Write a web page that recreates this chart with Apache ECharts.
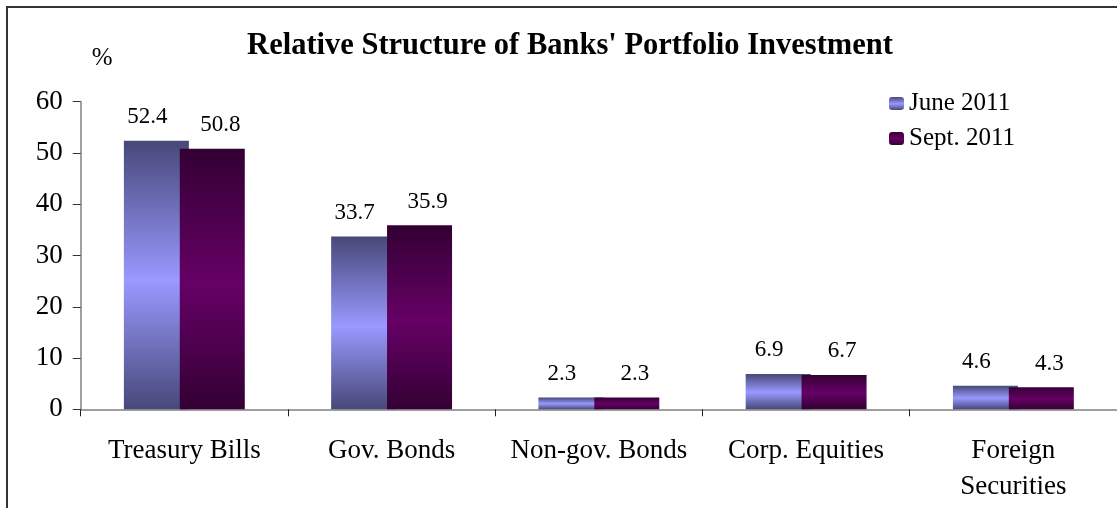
<!DOCTYPE html>
<html>
<head>
<meta charset="utf-8">
<script src="https://cdn.jsdelivr.net/npm/echarts@6/dist/echarts.min.js"></script>
<style>
  html, body { margin: 0; padding: 0; background: #fff; overflow: hidden; }
  #chart { width: 1117px; height: 508px; }
</style>
</head>
<body>
<div id="chart"></div>
<script>
// Portfolio investment structure by instrument, percent of total
const categories = ['Treasury Bills', 'Gov. Bonds', 'Non-gov. Bonds', 'Corp. Equities', 'Foreign\nSecurities'];
const seriesNames = ['June 2011', 'Sept. 2011'];
const june2011 = [52.4, 33.7, 2.3, 6.9, 4.6];
const sept2011 = [50.8, 35.9, 2.3, 6.7, 4.3];
const yTicks = { min: 0, max: 60, interval: 10 };

const FONT = '"Liberation Serif", "Times New Roman", serif';

// Bars shade dark at the ends and light through the middle
function band(edge, mid) {
  return new echarts.graphic.LinearGradient(0, 0, 0, 1, [
    { offset: 0, color: edge },
    { offset: 0.52, color: mid },
    { offset: 1, color: edge }
  ]);
}

const chart = echarts.init(document.getElementById('chart'), null, { renderer: 'canvas' });

const labelStyle = (dx) => ({
  show: true,
  position: 'top',
  distance: 12,
  offset: [dx, 0],
  color: '#000',
  fontFamily: FONT,
  fontSize: 23
});

chart.setOption({
  animation: false,
  backgroundColor: '#fff',
  title: {
    text: "Relative Structure of Banks' Portfolio Investment",
    left: 565,
    textAlign: 'center',
    top: 26,
    textStyle: { fontFamily: FONT, fontWeight: 'bold', fontSize: 30.5, color: '#000' }
  },
  legend: {
    orient: 'vertical',
    left: 884,
    top: 86,
    itemWidth: 15,
    itemHeight: 13,
    itemGap: 10,
    textStyle: { fontFamily: FONT, fontSize: 25, color: '#000' },
    data: seriesNames
  },
  graphic: [{
    type: 'rect',
    silent: true,
    shape: { x: 7, y: 7, width: 1130, height: 530 },
    style: { fill: 'none', stroke: '#333', lineWidth: 2 }
  }],
  grid: { left: 80.7, right: -5, top: 101.7, bottom: 98.7, containLabel: false },
  xAxis: {
    type: 'category',
    data: categories,
    axisLine: { lineStyle: { color: '#808080', width: 1.5 } },
    axisTick: { show: true, alignWithLabel: false, length: 7, lineStyle: { color: '#222', width: 1 } },
    axisLabel: { fontFamily: FONT, fontSize: 27, color: '#000', margin: 24, lineHeight: 36, interval: 0 }
  },
  yAxis: {
    type: 'value',
    min: yTicks.min,
    max: yTicks.max,
    interval: yTicks.interval,
    name: '%',
    nameLocation: 'end',
    nameGap: 31,
    nameTextStyle: { fontFamily: FONT, fontSize: 25, color: '#000', align: 'left', padding: [0, 0, 0, 11] },
    splitLine: { show: false },
    axisLine: { show: true, lineStyle: { color: '#808080', width: 1.5 } },
    axisTick: { show: true, length: 8, lineStyle: { color: '#333', width: 1 } },
    axisLabel: { fontFamily: FONT, fontSize: 27, color: '#000', margin: 18 }
  },
  series: [
    {
      name: seriesNames[0],
      type: 'bar',
      data: june2011,
      barWidth: 65,
      barGap: '-14%',
      itemStyle: { color: band('#474878', '#9999ff') },
      label: labelStyle(-9)
    },
    {
      name: seriesNames[1],
      type: 'bar',
      data: sept2011,
      barWidth: 65,
      barGap: '-14%',
      itemStyle: { color: band('#330033', '#660066') },
      label: labelStyle(8)
    }
  ]
});
</script>
</body>
</html>
